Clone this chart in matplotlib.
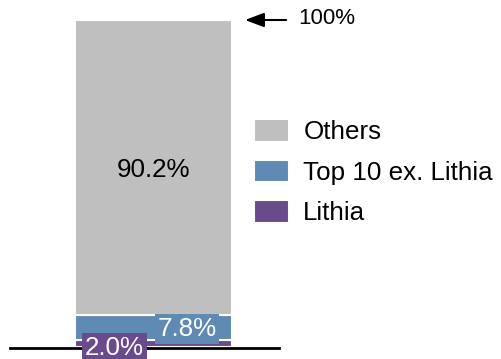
import matplotlib.pyplot as plt

plt.rcParams["font.family"] = ["Liberation Sans", "DejaVu Sans"]

# data
segments = ["Lithia", "Top 10 ex. Lithia", "Others"]
shares = [2.0, 7.8, 90.2]
colors = ["#694A8C", "#5E8AB4", "#BFBFBF"]
total_label = "100%"

fig = plt.figure(figsize=(5.02, 3.59), dpi=100)
ax = fig.add_axes([0, 0, 1, 1])
ax.set_xlim(-0.978, 2.22)
# y: 0 at 347px from top, 100 at 20px from top
ax.set_ylim(-12 / 3.27, 100 + 20 / 3.27)
ax.axis("off")

bottom = 0
bars = []
for name, val, c in zip(segments, shares, colors):
    b = ax.bar(0, val, width=1, bottom=bottom, color=c, edgecolor="white",
               linewidth=1.5, label=name)
    bars.append(b)
    bottom += val

ax.axhline(-0.3, xmin=0.02, xmax=0.555, color="black", lw=2, zorder=5)

# value labels
ax.text(0, shares[0] + shares[1] + shares[2] / 2 - 0.7, f"{shares[2]}%",
        ha="center", va="center", fontsize=18.7, color="black")
ax.text(0.215, shares[0] + shares[1] / 2 - 0.4, f"{shares[1]}%", ha="center",
        va="center", fontsize=18.7, color="white", zorder=6,
        bbox=dict(boxstyle="square,pad=0.1", fc=colors[1], ec="none"))
ax.text(-0.25, -0.2, f"{shares[0]}%", ha="center", va="center", fontsize=18.7,
        color="white", zorder=6,
        bbox=dict(boxstyle="square,pad=0.12", fc=colors[0], ec="none"))

# 100% arrow
ax.annotate("", xy=(0.583, 100), xytext=(0.845, 100),
            arrowprops=dict(arrowstyle="-|>,head_length=0.82,head_width=0.31",
                            color="black", lw=1.5, mutation_scale=14,
                            shrinkA=0, shrinkB=0))
ax.text(0.92, 100.4, total_label, ha="left", va="center", fontsize=16)

handles = [bars[2], bars[1], bars[0]]
leg = ax.legend(handles, [segments[2], segments[1], segments[0]],
                loc="upper left", bbox_to_anchor=(0.506, 0.668), frameon=False,
                fontsize=18.7, handlelength=1.36, handleheight=0.97,
                handletextpad=0.54, labelspacing=0.58, borderpad=0,
                borderaxespad=0)

plt.savefig("out.png", dpi=100)
